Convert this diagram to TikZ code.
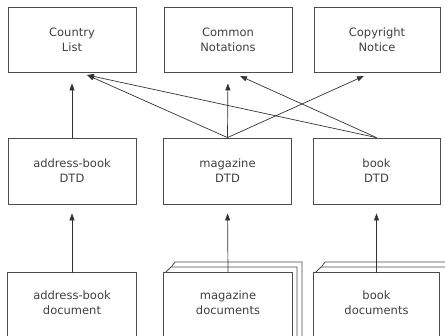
\documentclass[tikz,border=0pt]{standalone}
\usepackage{fontspec}
\setmainfont{DejaVu Sans}
\usetikzlibrary{arrows.meta,calc}
\begin{document}
\begin{tikzpicture}[x=1pt,y=-1pt,
  lbl/.style={font=\fontsize{11.5}{15}\selectfont, text=black!75, align=center},
  box/.style={lbl, draw=black!70, line width=0.8pt, fill=white, minimum width=128pt, minimum height=65pt, inner sep=0pt},
  docbox/.style={lbl, minimum width=128pt, minimum height=60pt, inner sep=0pt},
  edge/.style={draw=black!70, line width=0.8pt},
  page/.style={draw=black!70, line width=0.8pt, fill=white},
  arr/.style={-{Triangle[length=7pt,width=5pt]}, line width=0.7pt, draw=black!80}]
\useasboundingbox (0,0) rectangle (445,336);
\clip (0,0) rectangle (445,336);
% top row
\node[box] (cl) at (72,39.5) {Country\\List};
\node[box] (cn) at (228,39.5) {Common\\Notations};
\node[box, minimum width=126pt] (cp) at (377,39.5) {Copyright\\Notice};
% middle row
\node[box, minimum height=66pt] (ab) at (72,171) {address-book\\DTD};
\node[box, minimum height=66pt] (mg) at (227.5,171) {magazine\\DTD};
\node[box, minimum height=66pt, minimum width=127pt] (bk) at (376.5,171) {book\\DTD};
% bottom row: stacked pages behind
\draw[page] (167,273) -- (175,262) -- (302,262) -- (302,350) -- (167,350) -- cycle;
\draw[page] (165,273) -- (171,267) -- (297,267) -- (297,350) -- (165,350) -- cycle;
\draw[page] (317,273) -- (325,262) -- (452,262) -- (452,350) -- (317,350) -- cycle;
\draw[page] (315,273) -- (321,267) -- (447,267) -- (447,350) -- (315,350) -- cycle;
% bottom row documents
\node[docbox] (abd) at (72,303) {address-book\\document};
\node[docbox] (mgd) at (228,303) {magazine\\documents};
\node[docbox, minimum width=125pt] (bkd) at (376.5,303) {book\\documents};
\foreach \n in {abd,mgd,bkd}{
  \draw[edge, fill=white] ($(\n.north west)+(0,80)$) -- (\n.north west) -- (\n.north east) -- ($(\n.north east)+(0,80)$);
}
\node[docbox] at (72,303) {address-book\\document};
\node[docbox] at (228,303) {magazine\\documents};
\node[docbox, minimum width=125pt] at (376.5,303) {book\\documents};
% arrow targets
\coordinate (clin) at (87,75);
\coordinate (cnin) at (240,76);
\coordinate (cpin) at (364,76);
% connectors
\draw[arr, shorten >=11pt] (ab.north) -- (cl.south);
\draw[arr, shorten >=11pt] (mg.north) -- (cn.south);
\draw[arr] (mg.north) -- (clin);
\draw[arr] (bk.north) -- (clin);
\draw[arr] (bk.north) -- (cnin);
\draw[arr] (mg.north) -- (cpin);
\draw[arr, shorten >=9pt] (abd.north) -- (ab.south);
\draw[arr, shorten >=9pt] (mgd.north) -- (mg.south);
\draw[arr, shorten >=9pt] (bkd.north) -- (bk.south);
\end{tikzpicture}
\end{document}
